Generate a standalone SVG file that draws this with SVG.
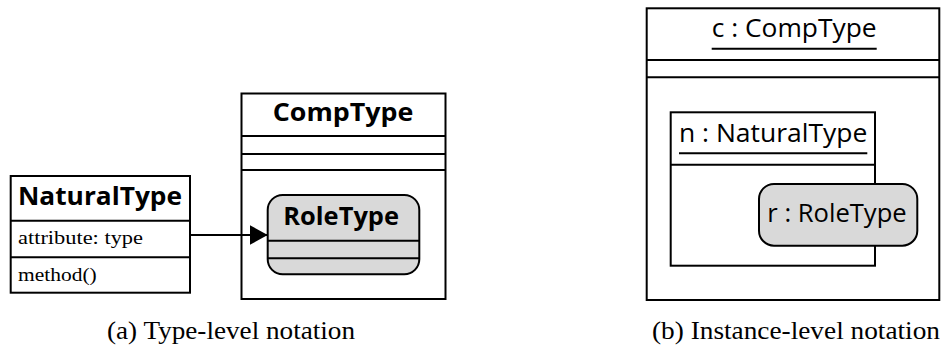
<svg xmlns="http://www.w3.org/2000/svg" width="944" height="347" viewBox="0 0 944 347">
  <defs>
    <marker id="arrow" viewBox="0 0 18 20" refX="18" refY="10" markerWidth="18" markerHeight="20" markerUnits="userSpaceOnUse" orient="auto">
      <path d="M0,0 L18,10 L0,20 Z" fill="#000"/>
    </marker>
  </defs>
  <style>
    .box { fill: #fff; stroke: #000; stroke-width: 2; }
    .role { fill: #d9d9d9; stroke: #000; stroke-width: 2; }
    .sep { stroke: #000; stroke-width: 2; fill: none; }
    .title { font-family: "Open Sans", Lato, sans-serif; font-size: 25px; font-weight: bold; fill: #000; }
    .name { font-family: "Open Sans", Lato, sans-serif; font-size: 25px; fill: #000; }
    .member { font-family: "Liberation Serif", serif; font-size: 19px; fill: #000; }
    .caption { font-family: "Liberation Serif", serif; font-size: 26px; fill: #000; }
    .conn { stroke: #000; stroke-width: 2; fill: none; }
  </style>

  <!-- (a) type level -->
  <g id="comptype">
    <rect class="box" x="241.5" y="93.5" width="204" height="205.5"/>
    <line class="sep" x1="241.5" y1="136" x2="445.5" y2="136"/>
    <line class="sep" x1="241.5" y1="154" x2="445.5" y2="154"/>
    <line class="sep" x1="241.5" y1="170" x2="445.5" y2="170"/>
    <text class="title" x="272.7" y="121" textLength="140.6" lengthAdjust="spacingAndGlyphs">CompType</text>
  </g>

  <g id="roletype">
    <rect class="role" x="267.7" y="195" width="151.6" height="79.3" rx="15" ry="15"/>
    <line class="sep" x1="267.7" y1="240.7" x2="419.3" y2="240.7"/>
    <line class="sep" x1="267.7" y1="258.3" x2="419.3" y2="258.3"/>
    <text class="title" x="283.3" y="225" textLength="115.7" lengthAdjust="spacingAndGlyphs">RoleType</text>
  </g>

  <g id="naturaltype">
    <rect class="box" x="10.7" y="176" width="179.3" height="116.7"/>
    <line class="sep" x1="10.7" y1="220.7" x2="190" y2="220.7"/>
    <line class="sep" x1="10.7" y1="257.3" x2="190" y2="257.3"/>
    <text class="title" x="18" y="205" textLength="164" lengthAdjust="spacingAndGlyphs">NaturalType</text>
    <text class="member" x="18" y="244" textLength="125" lengthAdjust="spacingAndGlyphs">attribute: type</text>
    <text class="member" x="18" y="281" textLength="78.7" lengthAdjust="spacingAndGlyphs">method()</text>
  </g>

  <g id="connectors">
    <line class="conn" x1="190" y1="235" x2="267.7" y2="235" marker-end="url(#arrow)"/>
  </g>

  <!-- (b) instance level -->
  <g id="c-comptype">
    <rect class="box" x="646.7" y="8.3" width="292.6" height="291.7"/>
    <line class="sep" x1="646.7" y1="60" x2="939.3" y2="60"/>
    <line class="sep" x1="646.7" y1="77.3" x2="939.3" y2="77.3"/>
    <text class="name" x="711.7" y="37" textLength="165" lengthAdjust="spacingAndGlyphs">c : CompType</text>
    <line class="sep" x1="711.7" y1="48.7" x2="876.7" y2="48.7"/>
  </g>

  <g id="n-naturaltype">
    <rect class="box" x="670.7" y="112.3" width="204.3" height="153.4"/>
    <line class="sep" x1="670.7" y1="164.7" x2="875" y2="164.7"/>
    <text class="name" x="679" y="142" textLength="188.3" lengthAdjust="spacingAndGlyphs">n : NaturalType</text>
    <line class="sep" x1="679" y1="153.3" x2="867.3" y2="153.3"/>
  </g>

  <g id="r-roletype">
    <rect class="role" x="759" y="184" width="158.3" height="61.7" rx="15" ry="15"/>
    <text class="name" x="767.3" y="222" textLength="139.4" lengthAdjust="spacingAndGlyphs">r : RoleType</text>
  </g>

  <text class="caption" x="107" y="339" textLength="248" lengthAdjust="spacingAndGlyphs">(a) Type-level notation</text>
  <text class="caption" x="652" y="339" textLength="288" lengthAdjust="spacingAndGlyphs">(b) Instance-level notation</text>
</svg>
